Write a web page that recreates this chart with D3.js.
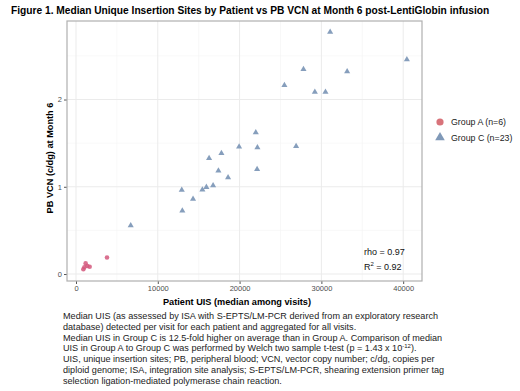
<!DOCTYPE html>
<html>
<head>
<meta charset="utf-8">
<script src="https://cdn.jsdelivr.net/npm/d3@7"></script>
<style>
  body { margin: 0; background: #fff; }
  text { font-family: "Liberation Sans", Arial, sans-serif; }
</style>
</head>
<body>
<div id="chart"></div>
<script>
// Group A (circles): median UIS vs PB VCN
const groupA_uis = [900, 1020, 1180, 1390, 1670, 3790];
const groupA_vcn = [0.054, 0.077, 0.122, 0.092, 0.084, 0.19];

// Group C (triangles)
const groupC_uis = [6690, 12930, 13000, 14310, 15450, 15940, 16760, 16270, 17410, 17780, 18590,
  19940, 21980, 22180, 22140, 26910, 25480, 27810, 29200, 30500, 31070, 33150, 40450];
const groupC_vcn = [0.557, 0.962, 0.725, 0.859, 0.965, 0.996, 1.015, 1.328, 1.183, 1.385, 1.107,
  1.458, 1.622, 1.450, 1.202, 1.465, 2.164, 2.347, 2.087, 2.087, 2.774, 2.320, 2.458];

const xTicks = [0, 10000, 20000, 30000, 40000];
const yTicks = [0, 1, 2];
const legendLabels = ["Group A (n=6)", "Group C (n=23)"];
const captionLines = [
  "Median UIS (as assessed by ISA with S-EPTS/LM-PCR derived from an exploratory research",
  "database) detected per visit for each patient and aggregated for all visits.",
  "Median UIS in Group C is 12.5-fold higher on average than in Group A. Comparison of median",
  "UIS in Group A to Group C was performed by Welch two sample t-test (p = 1.43 x 10|-12|).",
  "UIS, unique insertion sites; PB, peripheral blood; VCN, vector copy number; c/dg, copies per",
  "diploid genome; ISA, integration site analysis; S-EPTS/LM-PCR, shearing extension primer tag",
  "selection ligation-mediated polymerase chain reaction."
];

const width = 520, height = 391;
const colA = "#d4587c", colC = "#8099b8";

const svg = d3.select("#chart").append("svg")
  .attr("width", width).attr("height", height);

svg.append("text")
  .attr("x", 11).attr("y", 14)
  .style("font-size", "10.2px").style("font-weight", "bold")
  .text("Figure 1. Median Unique Insertion Sites by Patient vs PB VCN at Month 6 post-LentiGlobin infusion");

const panel = { left: 67, top: 21, right: 422, bottom: 281 };

const x = d3.scaleLinear().domain([-1100, 42300]).range([panel.left, panel.right]);
const y = d3.scaleLinear().domain([-0.08, 2.9]).range([panel.bottom, panel.top]);

// grid
const g = svg.append("g");
const minorX = d3.range(5000, 42000, 10000);
const minorY = [0.5, 1.5, 2.5];
g.selectAll(".mx").data(minorX).enter().append("line")
  .attr("x1", d => x(d)).attr("x2", d => x(d))
  .attr("y1", panel.top).attr("y2", panel.bottom)
  .attr("stroke", "#f3f3f3").attr("stroke-width", 0.6);
g.selectAll(".my").data(minorY).enter().append("line")
  .attr("y1", d => y(d)).attr("y2", d => y(d))
  .attr("x1", panel.left).attr("x2", panel.right)
  .attr("stroke", "#f3f3f3").attr("stroke-width", 0.6);
g.selectAll(".gx").data(xTicks).enter().append("line")
  .attr("x1", d => x(d)).attr("x2", d => x(d))
  .attr("y1", panel.top).attr("y2", panel.bottom)
  .attr("stroke", "#ebebeb").attr("stroke-width", 1);
g.selectAll(".gy").data(yTicks).enter().append("line")
  .attr("y1", d => y(d)).attr("y2", d => y(d))
  .attr("x1", panel.left).attr("x2", panel.right)
  .attr("stroke", "#ebebeb").attr("stroke-width", 1);

// axes
const xAxis = svg.append("g")
  .attr("transform", "translate(0," + panel.bottom + ")")
  .call(d3.axisBottom(x).tickValues(xTicks).tickSize(3).tickPadding(2).tickFormat(d3.format("d")));
const yAxis = svg.append("g")
  .attr("transform", "translate(" + panel.left + ",0)")
  .call(d3.axisLeft(y).tickValues(yTicks).tickSize(3).tickPadding(2).tickFormat(d3.format("d")));
[xAxis, yAxis].forEach(a => {
  a.select(".domain").remove();
  a.selectAll(".tick line").attr("stroke", "#555");
  a.selectAll(".tick text").attr("fill", "#4d4d4d").style("font-size", "7.5px")
    .style("font-family", "Liberation Sans, Arial, sans-serif");
});

svg.append("rect")
  .attr("x", panel.left).attr("y", panel.top)
  .attr("width", panel.right - panel.left).attr("height", panel.bottom - panel.top)
  .attr("fill", "none").attr("stroke", "#b0b0b0").attr("stroke-width", 1.2);

// points
const dataA = groupA_uis.map((u, i) => ({ u, v: groupA_vcn[i] }));
const dataC = groupC_uis.map((u, i) => ({ u, v: groupC_vcn[i] }));
const tri = d3.symbol().type(d3.symbolTriangle).size(16);

svg.append("g").selectAll("path").data(dataC).enter().append("path")
  .attr("d", tri)
  .attr("transform", d => "translate(" + x(d.u) + "," + y(d.v) + ")")
  .attr("fill", colC).attr("fill-opacity", 0.95);
svg.append("g").selectAll("circle").data(dataA).enter().append("circle")
  .attr("cx", d => x(d.u)).attr("cy", d => y(d.v)).attr("r", 2.3)
  .attr("fill", colA).attr("fill-opacity", 0.85);

// annotation
const ann = svg.append("g").style("font-size", "9px").attr("fill", "#111");
ann.append("text").attr("x", 364).attr("y", 255).text("rho = 0.97");
const r2 = ann.append("text").attr("x", 364).attr("y", 270);
r2.append("tspan").text("R");
r2.append("tspan").attr("dy", -4).style("font-size", "6px").text("2");
r2.append("tspan").attr("dy", 4).text(" = 0.92");

// axis titles
svg.append("text")
  .attr("x", 237).attr("y", 305)
  .attr("text-anchor", "middle")
  .style("font-size", "9.2px").style("font-weight", "bold")
  .text("Patient UIS (median among visits)");
svg.append("text")
  .attr("transform", "translate(53," + ((panel.top + panel.bottom) / 2 + 7) + ") rotate(-90)")
  .attr("text-anchor", "middle")
  .style("font-size", "9.2px").style("font-weight", "bold")
  .text("PB VCN (c/dg) at Month 6");

// legend
const leg = svg.append("g").attr("transform", "translate(440,122)");
leg.append("circle").attr("cx", 0).attr("cy", 0).attr("r", 3.6).attr("fill", "#d8737a");
leg.append("path").attr("d", d3.symbol().type(d3.symbolTriangle).size(40))
  .attr("transform", "translate(0,15.5)").attr("fill", colC);
leg.selectAll("text").data(legendLabels).enter().append("text")
  .attr("x", 11).attr("y", (d, i) => i * 15.5 + 3.2)
  .style("font-size", "8.8px").attr("fill", "#222")
  .text(d => d);

// caption
const cap = svg.append("g").style("font-size", "9.1px").attr("fill", "#222");
captionLines.forEach((line, i) => {
  const t = cap.append("text").attr("x", 63).attr("y", 319 + i * 10.8);
  const parts = line.split("|");
  t.append("tspan").text(parts[0]);
  if (parts.length > 1) {
    t.append("tspan").attr("dy", -3).style("font-size", "6px").text(parts[1]);
    t.append("tspan").attr("dy", 3).text(parts[2]);
  }
});
</script>
</body>
</html>
